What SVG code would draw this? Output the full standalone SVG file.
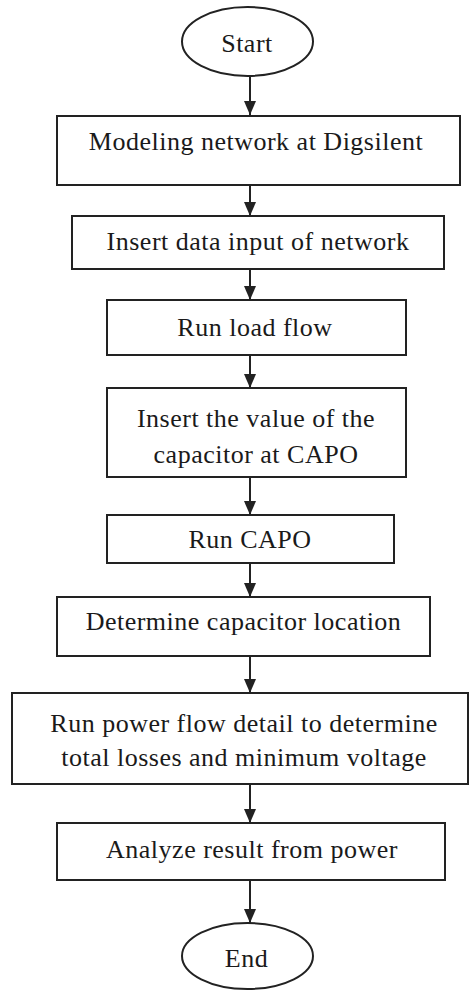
<svg xmlns="http://www.w3.org/2000/svg" width="470" height="991" viewBox="0 0 470 991">
<style>
.node{fill:#fff;stroke:#222;stroke-width:2}
.t{font-family:"Liberation Serif","Times New Roman",serif;font-size:26px;fill:#1a1a1a;text-anchor:middle;letter-spacing:0.5px}
.c{stroke:#222;stroke-width:2;fill:none}
</style>
<defs>
<marker id="ah" markerUnits="userSpaceOnUse" viewBox="0 0 14 12" refX="14" refY="6" markerWidth="14" markerHeight="12" orient="auto">
<path d="M0,0 L14,6 L0,12 z" fill="#222"/>
</marker>
</defs>
<rect width="470" height="991" fill="#fff"/>
<g id="connectors">
<line class="c" x1="250" y1="76" x2="250" y2="115" marker-end="url(#ah)"/>
<line class="c" x1="250" y1="185" x2="250" y2="216" marker-end="url(#ah)"/>
<line class="c" x1="250" y1="269" x2="250" y2="300" marker-end="url(#ah)"/>
<line class="c" x1="250" y1="355" x2="250" y2="388" marker-end="url(#ah)"/>
<line class="c" x1="250" y1="477" x2="250" y2="515" marker-end="url(#ah)"/>
<line class="c" x1="250" y1="563" x2="250" y2="597" marker-end="url(#ah)"/>
<line class="c" x1="250" y1="656" x2="250" y2="693" marker-end="url(#ah)"/>
<line class="c" x1="250" y1="784" x2="250" y2="823" marker-end="url(#ah)"/>
<line class="c" x1="250" y1="880" x2="250" y2="923" marker-end="url(#ah)"/>
</g>
<g id="start">
<ellipse class="node" cx="247.5" cy="41.5" rx="65.5" ry="34.5"/>
<text class="t" x="247" y="52">Start</text>
</g>
<g id="modeling">
<rect class="node" x="57" y="116" width="403" height="69"/>
<text class="t" x="256" y="150">Modeling network at Digsilent</text>
</g>
<g id="insert-data">
<rect class="node" x="72" y="216" width="372" height="53"/>
<text class="t" x="258" y="250">Insert data input of network</text>
</g>
<g id="run-load-flow">
<rect class="node" x="107" y="300" width="299" height="55"/>
<text class="t" x="255" y="336">Run load flow</text>
</g>
<g id="insert-capacitor">
<rect class="node" x="107" y="388" width="299" height="89"/>
<text class="t" x="256" y="427">Insert the value of the</text>
<text class="t" x="256" y="463">capacitor at CAPO</text>
</g>
<g id="run-capo">
<rect class="node" x="107" y="515" width="287" height="48"/>
<text class="t" x="250" y="548">Run CAPO</text>
</g>
<g id="determine-location">
<rect class="node" x="57" y="597" width="373" height="59"/>
<text class="t" x="243.5" y="630">Determine capacitor location</text>
</g>
<g id="run-power-flow">
<rect class="node" x="12" y="693" width="456" height="91"/>
<text class="t" x="244" y="732">Run power flow detail to determine</text>
<text class="t" x="244" y="766">total losses and minimum voltage</text>
</g>
<g id="analyze">
<rect class="node" x="57" y="823" width="388" height="57"/>
<text class="t" x="252" y="858">Analyze result from power</text>
</g>
<g id="end">
<ellipse class="node" cx="247.5" cy="956" rx="65.5" ry="33"/>
<text class="t" x="246.5" y="967">End</text>
</g>
</svg>
